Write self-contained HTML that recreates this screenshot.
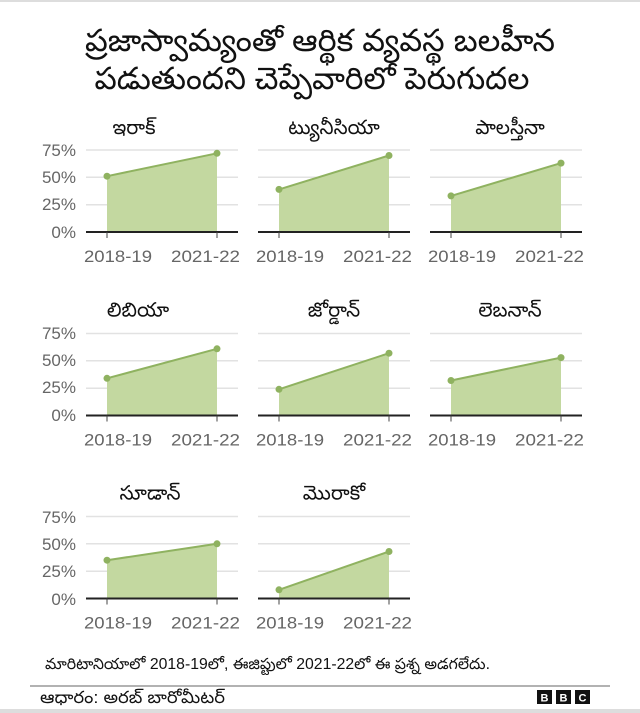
<!DOCTYPE html>
<html><head><meta charset="utf-8"><style>
html,body{margin:0;padding:0;background:#fff}
svg{display:block}
text{font-family:"Liberation Sans","DejaVu Sans",sans-serif}
</style></head><body>
<svg width="640" height="713" viewBox="0 0 640 713" xmlns="http://www.w3.org/2000/svg">
<rect x="0" y="0" width="640" height="713" fill="#fff"/>
<rect x="0" y="0" width="640" height="2" fill="#ddd"/>
<rect x="0" y="709" width="640" height="4" fill="#ddd"/>
<text x="320" y="51" font-size="31" text-anchor="middle" fill="#111" textLength="470" lengthAdjust="spacingAndGlyphs">ప్రజాస్వామ్యంతో ఆర్థిక వ్యవస్థ బలహీన</text>
<text x="312" y="89" font-size="31" text-anchor="middle" fill="#111" textLength="435" lengthAdjust="spacingAndGlyphs">పడుతుందని చెప్పేవారిలో పెరుగుదల</text>

<g id="ylab" font-size="17" fill="#666" text-anchor="end">
<text x="76" y="156">75%</text><text x="76" y="183">50%</text><text x="76" y="210">25%</text><text x="76" y="238">0%</text>
<text x="76" y="339">75%</text><text x="76" y="366">50%</text><text x="76" y="393">25%</text><text x="76" y="421">0%</text>
<text x="76" y="523">75%</text><text x="76" y="550">50%</text><text x="76" y="577">25%</text><text x="76" y="605">0%</text>
</g>

<defs>
<g id="grid">
<line x1="86" x2="238" y1="150" y2="150" stroke="#e2e2e2" stroke-width="1.5"/>
<line x1="86" x2="238" y1="177.3" y2="177.3" stroke="#e2e2e2" stroke-width="1.5"/>
<line x1="86" x2="238" y1="204.7" y2="204.7" stroke="#e2e2e2" stroke-width="1.5"/>
</g>
<g id="axis">
<line x1="86" x2="238" y1="232" y2="232" stroke="#222" stroke-width="2"/>
<line x1="107" x2="107" y1="232" y2="238" stroke="#444" stroke-width="1"/>
<line x1="217" x2="217" y1="232" y2="238" stroke="#444" stroke-width="1"/>
<text x="84" y="262" font-size="17" fill="#666" textLength="68" lengthAdjust="spacingAndGlyphs">2018-19</text>
<text x="171" y="262" font-size="17" fill="#666" textLength="69" lengthAdjust="spacingAndGlyphs">2021-22</text>
</g>
</defs>

<g transform="translate(0,0)"><use href="#grid"/>
<polygon points="107,232 107,176.2 217,153.3 217,232" fill="#c3d8a0"/>
<polyline points="107,176.2 217,153.3" fill="none" stroke="#8fb260" stroke-width="2"/>
<circle cx="107" cy="176.2" r="3.5" fill="#8fb260"/><circle cx="217" cy="153.3" r="3.5" fill="#8fb260"/>
<use href="#axis"/><text x="134" y="134" font-size="20" text-anchor="middle" fill="#111">ఇరాక్</text></g>

<g transform="translate(172,0)"><use href="#grid"/>
<polygon points="107,232 107,189.4 217,155.5 217,232" fill="#c3d8a0"/>
<polyline points="107,189.4 217,155.5" fill="none" stroke="#8fb260" stroke-width="2"/>
<circle cx="107" cy="189.4" r="3.5" fill="#8fb260"/><circle cx="217" cy="155.5" r="3.5" fill="#8fb260"/>
<use href="#axis"/><text x="162" y="134" font-size="20" text-anchor="middle" fill="#111">ట్యునీసియా</text></g>

<g transform="translate(344,0)"><use href="#grid"/>
<polygon points="107,232 107,195.9 217,163.1 217,232" fill="#c3d8a0"/>
<polyline points="107,195.9 217,163.1" fill="none" stroke="#8fb260" stroke-width="2"/>
<circle cx="107" cy="195.9" r="3.5" fill="#8fb260"/><circle cx="217" cy="163.1" r="3.5" fill="#8fb260"/>
<use href="#axis"/><text x="166" y="134" font-size="20" text-anchor="middle" fill="#111">పాలస్తీనా</text></g>

<g transform="translate(0,183.5)"><use href="#grid"/>
<polygon points="107,232 107,194.8 217,165.3 217,232" fill="#c3d8a0"/>
<polyline points="107,194.8 217,165.3" fill="none" stroke="#8fb260" stroke-width="2"/>
<circle cx="107" cy="194.8" r="3.5" fill="#8fb260"/><circle cx="217" cy="165.3" r="3.5" fill="#8fb260"/>
<use href="#axis"/><text x="138" y="133" font-size="20" text-anchor="middle" fill="#111">లిబియా</text></g>

<g transform="translate(172,183.5)"><use href="#grid"/>
<polygon points="107,232 107,205.8 217,169.7 217,232" fill="#c3d8a0"/>
<polyline points="107,205.8 217,169.7" fill="none" stroke="#8fb260" stroke-width="2"/>
<circle cx="107" cy="205.8" r="3.5" fill="#8fb260"/><circle cx="217" cy="169.7" r="3.5" fill="#8fb260"/>
<use href="#axis"/><text x="162" y="133" font-size="20" text-anchor="middle" fill="#111">జోర్డాన్</text></g>

<g transform="translate(344,183.5)"><use href="#grid"/>
<polygon points="107,232 107,197 217,174.1 217,232" fill="#c3d8a0"/>
<polyline points="107,197 217,174.1" fill="none" stroke="#8fb260" stroke-width="2"/>
<circle cx="107" cy="197" r="3.5" fill="#8fb260"/><circle cx="217" cy="174.1" r="3.5" fill="#8fb260"/>
<use href="#axis"/><text x="166" y="133" font-size="20" text-anchor="middle" fill="#111">లెబనాన్</text></g>

<g transform="translate(0,366.5)"><use href="#grid"/>
<polygon points="107,232 107,193.7 217,177.3 217,232" fill="#c3d8a0"/>
<polyline points="107,193.7 217,177.3" fill="none" stroke="#8fb260" stroke-width="2"/>
<circle cx="107" cy="193.7" r="3.5" fill="#8fb260"/><circle cx="217" cy="177.3" r="3.5" fill="#8fb260"/>
<use href="#axis"/><text x="150" y="133" font-size="20" text-anchor="middle" fill="#111">సూడాన్</text></g>

<g transform="translate(172,366.5)"><use href="#grid"/>
<polygon points="107,232 107,223.3 217,185 217,232" fill="#c3d8a0"/>
<polyline points="107,223.3 217,185" fill="none" stroke="#8fb260" stroke-width="2"/>
<circle cx="107" cy="223.3" r="3.5" fill="#8fb260"/><circle cx="217" cy="185" r="3.5" fill="#8fb260"/>
<use href="#axis"/><text x="162" y="133" font-size="20" text-anchor="middle" fill="#111">మొరాకో</text></g>

<text x="45" y="669" font-size="15.5" fill="#111" textLength="445" lengthAdjust="spacingAndGlyphs">మారిటానియాలో 2018-19లో, ఈజిప్టులో 2021-22లో ఈ ప్రశ్న అడగలేదు.</text>
<line x1="30" x2="610" y1="686" y2="686" stroke="#999" stroke-width="1.5"/>
<text x="40" y="703" font-size="17" fill="#111" textLength="185" lengthAdjust="spacingAndGlyphs">ఆధారం: అరబ్ బారోమీటర్</text>
<rect x="537" y="690" width="15" height="14" fill="#111"/>
<rect x="556" y="690" width="15" height="14" fill="#111"/>
<rect x="575" y="690" width="15" height="14" fill="#111"/>
<text x="544.5" y="701.5" font-size="11" font-weight="bold" fill="#fff" text-anchor="middle">B</text>
<text x="563.5" y="701.5" font-size="11" font-weight="bold" fill="#fff" text-anchor="middle">B</text>
<text x="582.5" y="701.5" font-size="11" font-weight="bold" fill="#fff" text-anchor="middle">C</text>
</svg>
</body></html>
